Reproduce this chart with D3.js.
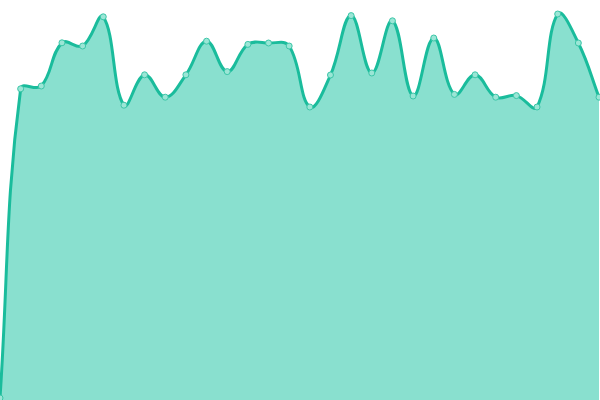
<!DOCTYPE html>
<html>
<head>
<meta charset="utf-8">
<script src="https://cdn.jsdelivr.net/npm/d3@7"></script>
<style>
  html, body { margin: 0; padding: 0; background: #fff; }
  svg { display: block; }
</style>
</head>
<body>
<div id="chart"></div>
<script>
// values, one per point, left to right
const labels = d3.range(30);
const values = [0.5, 77.8, 78.5, 89.3, 88.5, 95.8, 73.7, 81.3, 75.7, 81.3,
                89.7, 82.1, 88.9, 89.25, 88.5, 73.25, 81.25, 96.1, 81.75, 94.8,
                76, 90.5, 76.4, 81.3, 75.7, 76.1, 73.25, 96.5, 89.25, 75.7];

const width = 600, height = 400;

// ------------------- HELPER: spline curve ----------------------
// tension-based bezier spline, control points weighted by segment length
// and kept inside the plot box
function tensionSpline(tension) {
    function Curve(context) { this._context = context; }
    Curve.prototype = {
        areaStart() {},
        areaEnd() {},
        lineStart() { this._pts = []; },
        point(x, y) { this._pts.push({ x: +x, y: +y }); },
        lineEnd() {
            let p = this._pts, n = p.length, c = this._context;
            if (!n) return;
            let clampX = v => Math.max(0, Math.min(width, v));
            let clampY = v => Math.max(0, Math.min(height, v));
            p.forEach((cur, i) => {
                let prev = p[i - 1] || cur, next = p[i + 1] || cur;
                let d01 = Math.hypot(cur.x - prev.x, cur.y - prev.y);
                let d12 = Math.hypot(next.x - cur.x, next.y - cur.y);
                let s01 = d01 / (d01 + d12) || 0, s12 = d12 / (d01 + d12) || 0;
                let fa = tension * s01, fb = tension * s12;
                cur.px = clampX(cur.x - fa * (next.x - prev.x));
                cur.py = clampY(cur.y - fa * (next.y - prev.y));
                cur.nx = clampX(cur.x + fb * (next.x - prev.x));
                cur.ny = clampY(cur.y + fb * (next.y - prev.y));
            });
            c.moveTo(p[0].x, p[0].y);
            for (let i = 1; i < n; i++) {
                c.bezierCurveTo(p[i - 1].nx, p[i - 1].ny, p[i].px, p[i].py, p[i].x, p[i].y);
            }
        }
    };
    return context => new Curve(context);
}

// -------------------------- CHART --------------------------

let svg = d3.select("#chart")
            .append("svg")
            .attr("width", width)
            .attr("height", height)

let x = d3.scaleLinear()
          .domain([0, labels.length - 1])
          .range([0, width - 1])

let y = d3.scaleLinear()
          .domain([0, 100])
          .range([height, 0])

let rows = labels.map((l, i) => ({ i: l, v: values[i] }))

let line = d3.line()
             .x(d => x(d.i))
             .y(d => y(d.v))
             .curve(tensionSpline(0.4))

// filled area: the curve closed down to the baseline
svg.append("path")
   .attr("d", line(rows) + "L" + x(labels[labels.length - 1]) + "," + y(0) + "L" + x(labels[0]) + "," + y(0) + "Z")
   .style("fill", "#89e0cf")

// the line on top
svg.append("path")
   .attr("d", line(rows))
   .style("fill", "none")
   .style("stroke", "#1abc9c")
   .style("stroke-width", 3)

// point markers
svg.selectAll("circle")
   .data(rows)
   .enter()
   .append("circle")
   .attr("cx", d => x(d.i))
   .attr("cy", d => y(d.v))
   .attr("r", 3)
   .style("fill", "#9be6d6")
   .style("stroke", "#3cc6a8")
   .style("stroke-width", 1)
</script>
</body>
</html>
